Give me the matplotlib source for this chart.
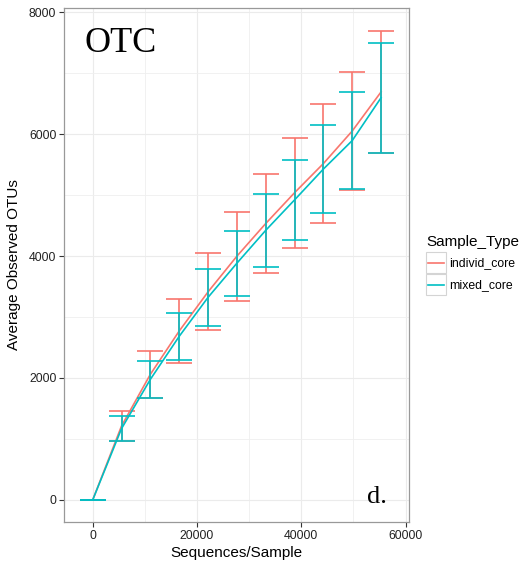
import matplotlib
matplotlib.use('Agg')
import matplotlib.pyplot as plt
from matplotlib.lines import Line2D
from matplotlib.patches import Rectangle

# rarefaction depths and observed OTUs (mean +/- sd) per sample type
depth = [0, 5530, 11060, 16590, 22120, 27650, 33180, 38710, 44240, 49770, 55300]
individ_mean = [0, 1213, 2060, 2770, 3412, 3997, 4533, 5038, 5516, 6050, 6691]
individ_sd = [0, 246, 388, 520, 632, 730, 817, 901, 980, 960, 998]
mixed_mean = [0, 1170, 1978, 2683, 3322, 3882, 4421, 4920, 5426, 5893, 6596]
mixed_sd = [0, 203, 306, 388, 464, 533, 601, 658, 716, 790, 902]

groups = ['individ_core', 'mixed_core']
colors = ['#F8766D', '#00BFC4']

plt.rcParams['font.family'] = ['Liberation Sans', 'DejaVu Sans']

W, H = 524, 564
fig = plt.figure(figsize=(W / 100, H / 100), dpi=100)
ax = fig.add_axes([64 / W, 1 - 522 / H, (409 - 64) / W, (522 - 8) / H])

for mean, sd, col in [(individ_mean, individ_sd, colors[0]),
                      (mixed_mean, mixed_sd, colors[1])]:
    ax.plot(depth, mean, color=col, lw=1.2, zorder=3)
    ax.errorbar(depth, mean, yerr=sd, fmt='none', ecolor=col,
                elinewidth=1.2, capsize=9.2, capthick=1.2, zorder=3)

ax.set_xlim(-5500, 60650)
ax.set_ylim(-361, 8066)
ax.set_xticks([0, 20000, 40000, 60000])
ax.set_xticks([10000, 30000, 50000], minor=True)
ax.set_yticks([0, 2000, 4000, 6000, 8000])
ax.set_yticks([1000, 3000, 5000, 7000], minor=True)
ax.grid(which='major', color='#EBEBEB', lw=0.8, zorder=0)
ax.grid(which='minor', color='#EFEFEF', lw=0.6, zorder=0)
ax.set_axisbelow(True)
ax.tick_params(which='major', length=3.5, width=0.8, color='#333333',
               labelsize=8.8, labelcolor='#222222', pad=2)
ax.tick_params(which='minor', length=0)
for s in ax.spines.values():
    s.set_color('#999999')
    s.set_linewidth(0.9)

ax.set_xlabel('Sequences/Sample', fontsize=11, labelpad=3)
ax.set_ylabel('Average Observed OTUs', fontsize=11, labelpad=6)

ax.text(0.058, 0.915, 'OTC', transform=ax.transAxes, fontsize=26,
        family='Liberation Serif', va='baseline')
ax.text(0.878, 0.036, 'd.', transform=ax.transAxes, fontsize=19,
        family='Liberation Serif', va='baseline')

# legend on the right, drawn as ggplot-style keys
fig.text(426 / W, 1 - 242 / H, 'Sample_Type', fontsize=11, va='center', ha='left')
for i, (lab, col) in enumerate(zip(groups, colors)):
    y0 = 252 + i * 22
    fig.patches.append(Rectangle((426 / W, 1 - (y0 + 21) / H), 20 / W, 21 / H,
                                 transform=fig.transFigure, facecolor='white',
                                 edgecolor='#D4D4D4', lw=0.8))
    fig.lines.append(Line2D([428 / W, 444 / W], [1 - (y0 + 11) / H] * 2,
                            transform=fig.transFigure, color=col, lw=1.2))
    fig.text(449 / W, 1 - (y0 + 11) / H, lab, fontsize=8.8, va='center', ha='left')

fig.savefig('out.png', dpi=100)
